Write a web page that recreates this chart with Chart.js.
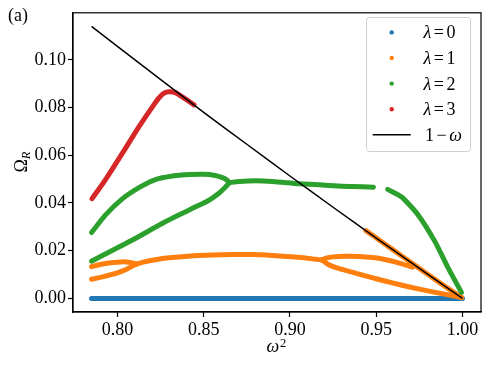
<!DOCTYPE html>
<html><head><meta charset="utf-8">
<script src="https://cdn.jsdelivr.net/npm/chart.js@4.4.1/dist/chart.umd.min.js"></script>
<style>html,body{margin:0;padding:0;background:#fff}</style>
</head><body>
<canvas id="c" width="489" height="366"></canvas>
<script>
// ---- data (ω², Ω_R) ----
const xTicks = [0.80, 0.85, 0.90, 0.95, 1.00];
const yTicks = [0.00, 0.02, 0.04, 0.06, 0.08, 0.10];
const seriesLabels = ['λ=0', 'λ=1', 'λ=2', 'λ=3', '1−ω'];

const lambda0 = [[0.785,0],[0.85,0],[0.90,0],[0.95,0],[1.0,0]];

const lambda1UpperLeft = [[0.785,0.0133],[0.790,0.0142],[0.795,0.0148],[0.800,0.0152],[0.805,0.0153],[0.808,0.0150],[0.811,0.0144]];
const lambda1LowerLeft = [[0.785,0.0080],[0.790,0.0088],[0.795,0.0097],[0.800,0.0107],[0.805,0.0121],[0.811,0.0144]];
const lambda1Main = [[0.811,0.0144],[0.815,0.0152],[0.822,0.0162],[0.830,0.0170],[0.841,0.0177],[0.855,0.0182],[0.867,0.0184],[0.878,0.0184],[0.890,0.0180],[0.898,0.0176],[0.908,0.0170],[0.915,0.0164],[0.9186,0.0161]];
const lambda1UpperLoop = [[0.9186,0.0161],[0.921,0.0169],[0.925,0.0174],[0.932,0.0177],[0.940,0.0176],[0.948,0.0171],[0.955,0.0163],[0.962,0.0151],[0.968,0.0138],[0.971,0.0131]];
const lambda1LowerLoop = [[0.9186,0.0161],[0.922,0.0143],[0.9263,0.0130],[0.936,0.0110],[0.946,0.0090],[0.955,0.0073],[0.965,0.0055],[0.975,0.0039],[0.985,0.0024],[0.9995,0.0004]];
const lambda1OnLine = [[0.944,0.0284],[0.955,0.0228],[0.965,0.0177],[0.975,0.0126],[0.985,0.0075],[0.9995,0.0003]];

const lambda2Upper = [[0.785,0.0276],[0.793,0.0349],[0.803,0.0418],[0.813,0.0466],[0.822,0.0498],[0.832,0.0513],[0.842,0.0519],[0.850,0.0520],[0.856,0.0516],[0.8605,0.0507],[0.8635,0.0496],[0.8648,0.0486]];
const lambda2Lower = [[0.785,0.0156],[0.797,0.0201],[0.809,0.0246],[0.828,0.0322],[0.8475,0.0391],[0.8532,0.0412],[0.859,0.0442],[0.8625,0.0466],[0.8648,0.0484]];
const lambda2Middle = [[0.8648,0.0485],[0.8706,0.0490],[0.880,0.0493],[0.890,0.0490],[0.905,0.0481],[0.917,0.0476],[0.928,0.0471],[0.936,0.0469],[0.9484,0.0466]];
const lambda2Right = [[0.9567,0.0457],[0.9648,0.0425],[0.9744,0.0349],[0.984,0.0239],[0.9917,0.0128],[0.9994,0.0025]];

const lambda3 = [[0.7853,0.0418],[0.7934,0.0501],[0.8031,0.0611],[0.8127,0.0722],[0.8204,0.0804],[0.8242,0.0841],[0.827,0.0860],[0.830,0.0866],[0.8335,0.0863],[0.8358,0.0853],[0.840,0.0833],[0.8444,0.0811]];

const oneMinusOmega = [[0.785,0.1140],[0.80,0.1056],[0.82,0.0945],[0.85,0.0780],[0.875,0.0646],[0.90,0.0513],[0.925,0.0382],[0.95,0.0253],[0.975,0.0126],[1.0,0.0]];

// ---- styling ----
const SERIF = '"Liberation Serif", "Times New Roman", serif';
const C0='#1f77b4', C1='#ff7f0e', C2='#2ca02c', C3='#d62728';

function pts(a){ return a.map(p => ({x:p[0], y:p[1]})); }
function branch(data, color, order, label){
  return { label: label || '', data: pts(data), borderColor: color, backgroundColor: color,
    borderWidth: 5, pointRadius: 0, pointHoverRadius: 0, tension: 0.2, fill: false,
    borderCapStyle: 'round', borderJoinStyle: 'round', order: order, isLegend: !!label };
}

const datasets = [
  branch(lambda0, C0, 5, seriesLabels[0]),
  branch(lambda1UpperLeft, C1, 4, seriesLabels[1]),
  branch(lambda1LowerLeft, C1, 4),
  branch(lambda1Main, C1, 4),
  branch(lambda1UpperLoop, C1, 4),
  branch(lambda1LowerLoop, C1, 4),
  branch(lambda1OnLine, C1, 4),
  branch(lambda2Upper, C2, 3, seriesLabels[2]),
  branch(lambda2Lower, C2, 3),
  branch(lambda2Middle, C2, 3),
  branch(lambda2Right, C2, 3),
  branch(lambda3, C3, 2, seriesLabels[3]),
  { label: seriesLabels[4], data: pts(oneMinusOmega), borderColor: '#000', backgroundColor: '#000',
    borderWidth: 1.5, pointRadius: 0, tension: 0.3, fill: false, order: 1, isLegend: true, isLine: true }
];

function drawMath(ctx, str, x, y, size){
  let cx = x;
  for (const ch of str){
    const greek = /[λω]/.test(ch);
    ctx.font = (greek ? 'italic ' : '') + size + 'px ' + SERIF;
    if (ch === '=' || ch === '−'){ cx += 2.5; ctx.fillText(ch, cx, y); cx += ctx.measureText(ch).width + 2.5; }
    else { ctx.fillText(ch, cx, y); cx += ctx.measureText(ch).width; }
  }
}

const decor = {
  id: 'decor',
  afterDraw(chart){
    const ctx = chart.ctx, a = chart.chartArea;
    ctx.save();
    ctx.strokeStyle = '#000'; ctx.lineWidth = 1.2;
    ctx.strokeRect(a.left, a.top, a.right - a.left, a.bottom - a.top);

    // legend
    ctx.beginPath();
    ctx.roundRect(366.5, 17.5, 104, 134, 3);
    ctx.fillStyle = 'rgba(255,255,255,0.8)'; ctx.fill();
    ctx.strokeStyle = '#d0d0d0'; ctx.lineWidth = 1; ctx.stroke();
    const items = chart.data.datasets.filter(d => d.isLegend);
    ctx.textBaseline = 'alphabetic'; ctx.textAlign = 'left';
    items.forEach((d, i) => {
      const y = 32.4 + i * 25.6;
      if (d.isLine){
        ctx.strokeStyle = d.borderColor; ctx.lineWidth = 1.5;
        ctx.beginPath(); ctx.moveTo(372.7, y); ctx.lineTo(410.7, y); ctx.stroke();
      } else {
        ctx.fillStyle = d.borderColor;
        ctx.beginPath(); ctx.arc(391.7, y, 2.2, 0, Math.PI*2); ctx.fill();
      }
      ctx.fillStyle = '#000';
      drawMath(ctx, d.label, d.isLine ? 425 : 423.5, y + 6, 18);
    });

    ctx.fillStyle = '#000';
    ctx.font = '18px ' + SERIF;
    ctx.fillText('(a)', 8, 21);

    // x title ω²
    ctx.font = 'italic 18px ' + SERIF;
    ctx.fillText('ω', 266.5, 351.5);
    ctx.font = '12.6px ' + SERIF;
    ctx.fillText('2', 280, 346.5);

    // y title Ω_R
    ctx.save();
    ctx.translate(26.5, 162);
    ctx.rotate(-Math.PI/2);
    ctx.font = '18px ' + SERIF;
    const wO = ctx.measureText('Ω').width;
    ctx.font = 'italic 12.6px ' + SERIF;
    const wR = ctx.measureText('R').width;
    const u0 = -(wO + wR)/2;
    ctx.font = '18px ' + SERIF;
    ctx.fillText('Ω', u0, 0);
    ctx.font = 'italic 12.6px ' + SERIF;
    ctx.fillText('R', u0 + wO, 3.5);
    ctx.restore();

    ctx.restore();
  }
};

new Chart(document.getElementById('c'), {
  type: 'line',
  data: { datasets },
  options: {
    responsive: false, animation: false, devicePixelRatio: 1,
    layout: { padding: { left: 0, right: 8, top: 8, bottom: 0 } },
    plugins: { legend: { display: false }, tooltip: { enabled: false } },
    events: [],
    scales: {
      x: {
        type: 'linear', min: 0.77425, max: 1.01075,
        afterBuildTicks: s => { s.ticks = xTicks.map(v => ({ value: v })); },
        afterFit: s => { s.height = 54; },
        ticks: { callback: v => Number(v).toFixed(2), font: { family: SERIF, size: 18 }, color: '#000', padding: 2, maxRotation: 0, autoSkip: false },
        grid: { drawOnChartArea: false, drawTicks: true, tickLength: 5, tickWidth: 1.2, tickColor: '#000' },
        border: { display: true, color: '#000', width: 1.2 }
      },
      y: {
        type: 'linear', min: -0.0057, max: 0.1197,
        afterBuildTicks: s => { s.ticks = yTicks.map(v => ({ value: v })); },
        afterFit: s => { s.width = 73; },
        ticks: { callback: v => Number(v).toFixed(2), font: { family: SERIF, size: 18 }, color: '#000', padding: 2, autoSkip: false },
        grid: { drawOnChartArea: false, drawTicks: true, tickLength: 5, tickWidth: 1.2, tickColor: '#000' },
        border: { display: true, color: '#000', width: 1.2 }
      }
    }
  },
  plugins: [decor]
});
</script>
</body></html>
